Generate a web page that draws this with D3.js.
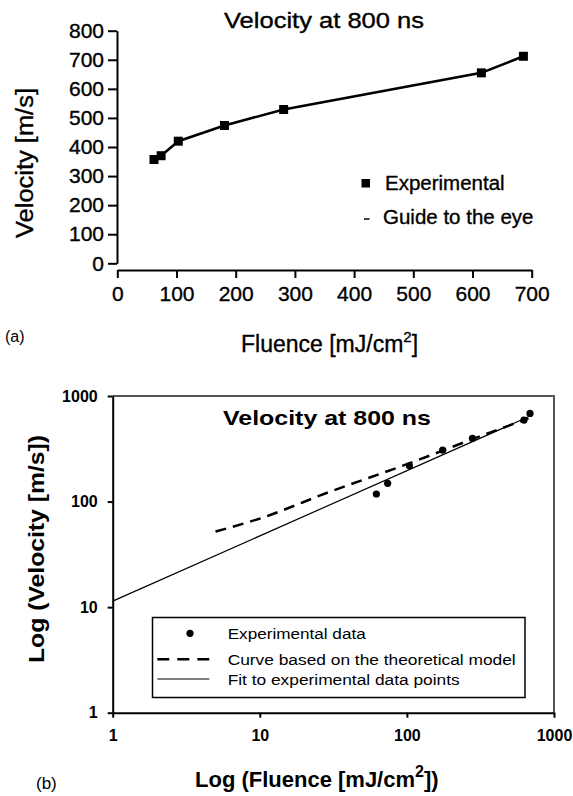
<!DOCTYPE html>
<html>
<head>
<meta charset="utf-8">
<script src="https://cdn.jsdelivr.net/npm/d3@7"></script>
<style>
  body { margin: 0; background: #fff; }
  svg text { font-family: "Liberation Sans", Arial, sans-serif; fill: #000; }
  .heavy text, text.heavy { stroke: #000; stroke-width: 0.35px; }
</style>
</head>
<body>
<svg id="fig" width="573" height="796"></svg>
<script>
// panel (a): velocity vs fluence
const fluenceA = [62, 74, 103, 181, 281, 615, 686];
const velocityA = [357, 370, 420, 474, 529, 655, 712];
const xTicksA = [0, 100, 200, 300, 400, 500, 600, 700];
const yTicksA = [0, 100, 200, 300, 400, 500, 600, 700, 800];

// panel (b): log-log
const fluenceB = [62, 74, 104, 175, 279, 625, 687];
const velocityB = [118, 149, 218, 307, 397, 591, 684];
const theoryX = [5, 10, 30, 100, 300, 670];
const theoryY = [52, 69, 124, 226, 405, 613];
const fitX = [1, 670];
const fitY = [11.4, 635];
const logTicks = [1, 10, 100, 1000];

const svg = d3.select('#fig');
svg.append('rect').attr('width', 573).attr('height', 796).attr('fill', '#fff');

// ---------- (a) ----------
const xA = d3.scaleLinear().domain([0, 700]).range([117.3, 531.7]);
const yA = d3.scaleLinear().domain([0, 800]).range([263.3, 30.7]);
const panelA = svg.append('g').attr('class', 'heavy');

const axXA = panelA.append('g').attr('transform', 'translate(0,270)')
    .call(d3.axisBottom(xA).tickValues(xTicksA).tickSize(8).tickSizeOuter(0).tickPadding(8));
const axYA = panelA.append('g').attr('transform', 'translate(117,0)')
    .call(d3.axisLeft(yA).tickValues(yTicksA).tickSize(9).tickSizeOuter(0).tickPadding(4));
[axXA, axYA].forEach(g => {
    g.selectAll('path, line').attr('stroke', '#000').attr('stroke-width', 2);
    g.selectAll('text').attr('font-size', 21).attr('font-family', '"Liberation Sans", Arial, sans-serif').attr('fill', '#000');
});

const lineA = d3.line().x((d, i) => xA(fluenceA[i])).y(d => yA(d));
panelA.append('path').datum(velocityA).attr('d', lineA)
    .attr('fill', 'none').attr('stroke', '#000').attr('stroke-width', 2.6);
panelA.append('g').selectAll('rect').data(velocityA).enter().append('rect')
    .attr('x', (d, i) => xA(fluenceA[i]) - 4.5).attr('y', d => yA(d) - 4.5)
    .attr('width', 9).attr('height', 9).attr('fill', '#000');

panelA.append('text').attr('x', 224).attr('y', 28).attr('font-size', 22)
    .attr('textLength', 200).attr('lengthAdjust', 'spacingAndGlyphs').text('Velocity at 800 ns');
panelA.append('text').attr('transform', 'translate(33,163) rotate(-90)').attr('text-anchor', 'middle')
    .attr('font-size', 23).attr('textLength', 150).attr('lengthAdjust', 'spacingAndGlyphs').text('Velocity [m/s]');
const flA = panelA.append('text').attr('x', 241).attr('y', 352).attr('font-size', 23);
flA.append('tspan').text('Fluence [mJ/cm');
flA.append('tspan').attr('font-size', 15).attr('dy', -10).text('2');
flA.append('tspan').attr('dy', 10).text(']');
svg.append('text').attr('x', 5).attr('y', 342).attr('font-size', 16).text('(a)');

// legend (a)
panelA.append('rect').attr('x', 361.5).attr('y', 179).attr('width', 8.5).attr('height', 8.5).attr('fill', '#000');
panelA.append('text').attr('x', 385).attr('y', 190).attr('font-size', 20.5).text('Experimental');
panelA.append('line').attr('x1', 364).attr('x2', 369.5).attr('y1', 219).attr('y2', 219).attr('stroke', '#000').attr('stroke-width', 1.5);
panelA.append('text').attr('x', 383).attr('y', 224).attr('font-size', 20.5).text('Guide to the eye');

// ---------- (b) ----------
const xB = d3.scaleLog().domain([1, 1000]).range([112.7, 554]);
const yB = d3.scaleLog().domain([1, 1000]).range([712.7, 396]);

// frame top / right (gray)
svg.append('path').attr('d', `M${xB(1)},${yB(1000)}H${xB(1000)}V${yB(1)}`)
    .attr('fill', 'none').attr('stroke', '#555').attr('stroke-width', 2);

const axXB = svg.append('g').attr('transform', `translate(0,${yB(1)})`)
    .call(d3.axisBottom(xB).tickValues(logTicks).tickFormat(d3.format('d')).tickSize(5).tickSizeOuter(0).tickPadding(12));
const axYB = svg.append('g').attr('transform', `translate(${xB(1)},0)`)
    .call(d3.axisLeft(yB).tickValues(logTicks).tickFormat(d3.format('d')).tickSize(5).tickSizeOuter(0).tickPadding(10));
[axXB, axYB].forEach(g => {
    g.selectAll('path, line').attr('stroke', '#000').attr('stroke-width', 2);
    g.selectAll('text').attr('font-size', 16).attr('font-weight', 'bold')
        .attr('font-family', '"Liberation Sans", Arial, sans-serif').attr('fill', '#000');
});

const lineB = d3.line().x(d => xB(d[0])).y(d => yB(d[1]));
svg.append('path').datum(fitX.map((x, i) => [x, fitY[i]])).attr('d', lineB)
    .attr('fill', 'none').attr('stroke', '#000').attr('stroke-width', 1.2);
svg.append('path').datum(theoryX.map((x, i) => [x, theoryY[i]])).attr('d', lineB.curve(d3.curveMonotoneX))
    .attr('fill', 'none').attr('stroke', '#000').attr('stroke-width', 2.5).attr('stroke-dasharray', '11,7');
svg.append('g').selectAll('circle').data(velocityB).enter().append('circle')
    .attr('cx', (d, i) => xB(fluenceB[i])).attr('cy', d => yB(d)).attr('r', 3.6).attr('fill', '#000');

svg.append('text').attr('x', 223).attr('y', 425).attr('font-size', 21).attr('font-weight', 'bold')
    .attr('textLength', 208).attr('lengthAdjust', 'spacingAndGlyphs').text('Velocity at 800 ns');
svg.append('text').attr('transform', 'translate(44,549) rotate(-90)').attr('text-anchor', 'middle')
    .attr('font-size', 22).attr('font-weight', 'bold').attr('textLength', 228).attr('lengthAdjust', 'spacingAndGlyphs')
    .text('Log (Velocity [m/s])');
const flB = svg.append('text').attr('x', 195).attr('y', 786.5).attr('font-size', 22).attr('font-weight', 'bold');
flB.append('tspan').text('Log (Fluence [mJ/cm');
flB.append('tspan').attr('font-size', 16).attr('dy', -10).text('2');
flB.append('tspan').attr('dy', 10).text('])');
svg.append('text').attr('x', 36).attr('y', 789).attr('font-size', 17).text('(b)');

// legend (b)
svg.append('rect').attr('x', 152.5).attr('y', 617.5).attr('width', 372.5).attr('height', 80)
    .attr('fill', '#fff').attr('stroke', '#000').attr('stroke-width', 1.5);
svg.append('circle').attr('cx', 190).attr('cy', 633.3).attr('r', 3.6).attr('fill', '#000');
svg.append('line').attr('x1', 157.3).attr('x2', 209.3).attr('y1', 659.3).attr('y2', 659.3)
    .attr('stroke', '#000').attr('stroke-width', 2.5).attr('stroke-dasharray', '12,8');
svg.append('line').attr('x1', 157.3).attr('x2', 209.3).attr('y1', 679).attr('y2', 679)
    .attr('stroke', '#000').attr('stroke-width', 1.2);
const legB = [['Experimental data', 638.8, 138], ['Curve based on the theoretical model', 664.8, 288], ['Fit to experimental data points', 684.5, 232]];
legB.forEach(d => {
    svg.append('text').attr('x', 227.7).attr('y', d[1]).attr('font-size', 15.5)
        .attr('textLength', d[2]).attr('lengthAdjust', 'spacingAndGlyphs').text(d[0]);
});
</script>
</body>
</html>
